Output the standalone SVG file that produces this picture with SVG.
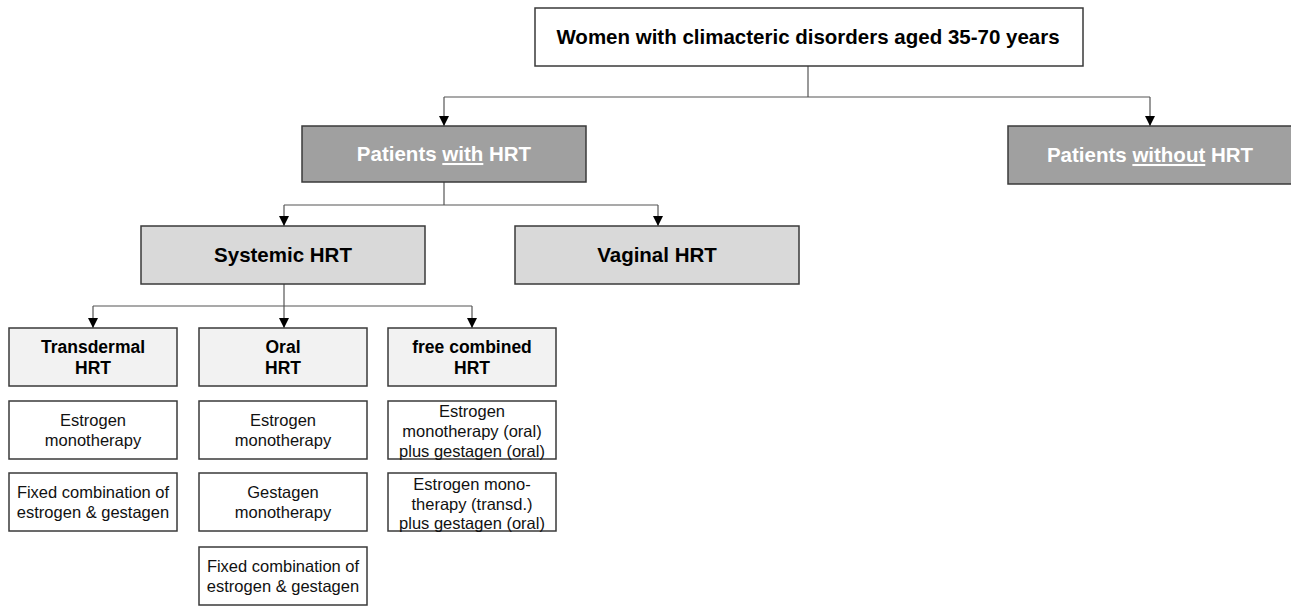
<svg xmlns="http://www.w3.org/2000/svg" width="1291" height="606" viewBox="0 0 1291 606">
<defs>
<marker id="arr" viewBox="0 0 10 10" refX="10" refY="5" markerWidth="10" markerHeight="10" markerUnits="userSpaceOnUse" orient="auto">
<path d="M0,0 L10,5 L0,10 z" fill="#000"/>
</marker>
<style>
.box{stroke:#3a3a3a;stroke-width:1.5}
.top{fill:#fff}
.dark{fill:#a0a0a0}
.mid{fill:#d9d9d9}
.light{fill:#f2f2f2}
.white{fill:#fff}
.t{font-family:"Liberation Sans",Arial,sans-serif;text-anchor:middle}
.b18{font-size:20.5px;font-weight:bold;fill:#000}
.w18{font-size:20.5px;font-weight:bold;fill:#fff}
.b16{font-size:17.5px;font-weight:bold;fill:#000}
.r15{font-size:16.5px;fill:#111}
.c{fill:none;stroke:#555;stroke-width:1.2}
</style>
</defs>
<rect width="1291" height="606" fill="#fff"/>
<g id="connectors">
<path class="c" d="M808,66 V97"/>
<path class="c" d="M444,97 H1150"/>
<path class="c" d="M444,97 V126" marker-end="url(#arr)"/>
<path class="c" d="M1150,97 V126" marker-end="url(#arr)"/>
<path class="c" d="M444,182 V205"/>
<path class="c" d="M284,205 H658"/>
<path class="c" d="M284,205 V226" marker-end="url(#arr)"/>
<path class="c" d="M658,205 V226" marker-end="url(#arr)"/>
<path class="c" d="M284,284 V306"/>
<path class="c" d="M93,306 H472"/>
<path class="c" d="M93,306 V328" marker-end="url(#arr)"/>
<path class="c" d="M284,306 V328" marker-end="url(#arr)"/>
<path class="c" d="M472,306 V328" marker-end="url(#arr)"/>
</g>
<g id="women">
<rect class="box top" x="535" y="8" width="548" height="58"/>
<text class="t b18" x="808" y="44">Women with climacteric disorders aged 35-70 years</text>
</g>
<g id="with-hrt">
<rect class="box dark" x="302" y="126" width="284" height="56"/>
<text class="t w18" x="444" y="161">Patients <tspan text-decoration="underline">with</tspan> HRT</text>
</g>
<g id="without-hrt">
<rect class="box dark" x="1008" y="126" width="290" height="58"/>
<text class="t w18" x="1150" y="162">Patients <tspan text-decoration="underline">without</tspan> HRT</text>
</g>
<g id="systemic">
<rect class="box mid" x="141" y="226" width="284" height="58"/>
<text class="t b18" x="283" y="262">Systemic HRT</text>
</g>
<g id="vaginal">
<rect class="box mid" x="515" y="226" width="284" height="58"/>
<text class="t b18" x="657" y="262">Vaginal HRT</text>
</g>
<g id="transdermal">
<rect class="box light" x="9" y="328" width="168" height="58"/>
<text class="t b16" x="93" y="353">Transdermal</text>
<text class="t b16" x="93" y="374">HRT</text>
</g>
<g id="oral">
<rect class="box light" x="199" y="328" width="168" height="58"/>
<text class="t b16" x="283" y="353">Oral</text>
<text class="t b16" x="283" y="374">HRT</text>
</g>
<g id="free-combined">
<rect class="box light" x="388" y="328" width="168" height="58"/>
<text class="t b16" x="472" y="353">free combined</text>
<text class="t b16" x="472" y="374">HRT</text>
</g>
<g id="td-estrogen">
<rect class="box white" x="9" y="401" width="168" height="58"/>
<text class="t r15" x="93" y="426">Estrogen</text>
<text class="t r15" x="93" y="446">monotherapy</text>
</g>
<g id="td-fixed">
<rect class="box white" x="9" y="473" width="168" height="58"/>
<text class="t r15" x="93" y="498">Fixed combination of</text>
<text class="t r15" x="93" y="518">estrogen &amp; gestagen</text>
</g>
<g id="oral-estrogen">
<rect class="box white" x="199" y="401" width="168" height="58"/>
<text class="t r15" x="283" y="426">Estrogen</text>
<text class="t r15" x="283" y="446">monotherapy</text>
</g>
<g id="oral-gestagen">
<rect class="box white" x="199" y="473" width="168" height="58"/>
<text class="t r15" x="283" y="498">Gestagen</text>
<text class="t r15" x="283" y="518">monotherapy</text>
</g>
<g id="oral-fixed">
<rect class="box white" x="199" y="547" width="168" height="58"/>
<text class="t r15" x="283" y="572">Fixed combination of</text>
<text class="t r15" x="283" y="592">estrogen &amp; gestagen</text>
</g>
<g id="fc-oral">
<rect class="box white" x="388" y="401" width="168" height="58"/>
<text class="t r15" x="472" y="417">Estrogen</text>
<text class="t r15" x="472" y="437">monotherapy (oral)</text>
<text class="t r15" x="472" y="457">plus gestagen (oral)</text>
</g>
<g id="fc-transd">
<rect class="box white" x="388" y="473" width="168" height="58"/>
<text class="t r15" x="472" y="490">Estrogen mono-</text>
<text class="t r15" x="472" y="510">therapy (transd.)</text>
<text class="t r15" x="472" y="529">plus gestagen (oral)</text>
</g>
</svg>
